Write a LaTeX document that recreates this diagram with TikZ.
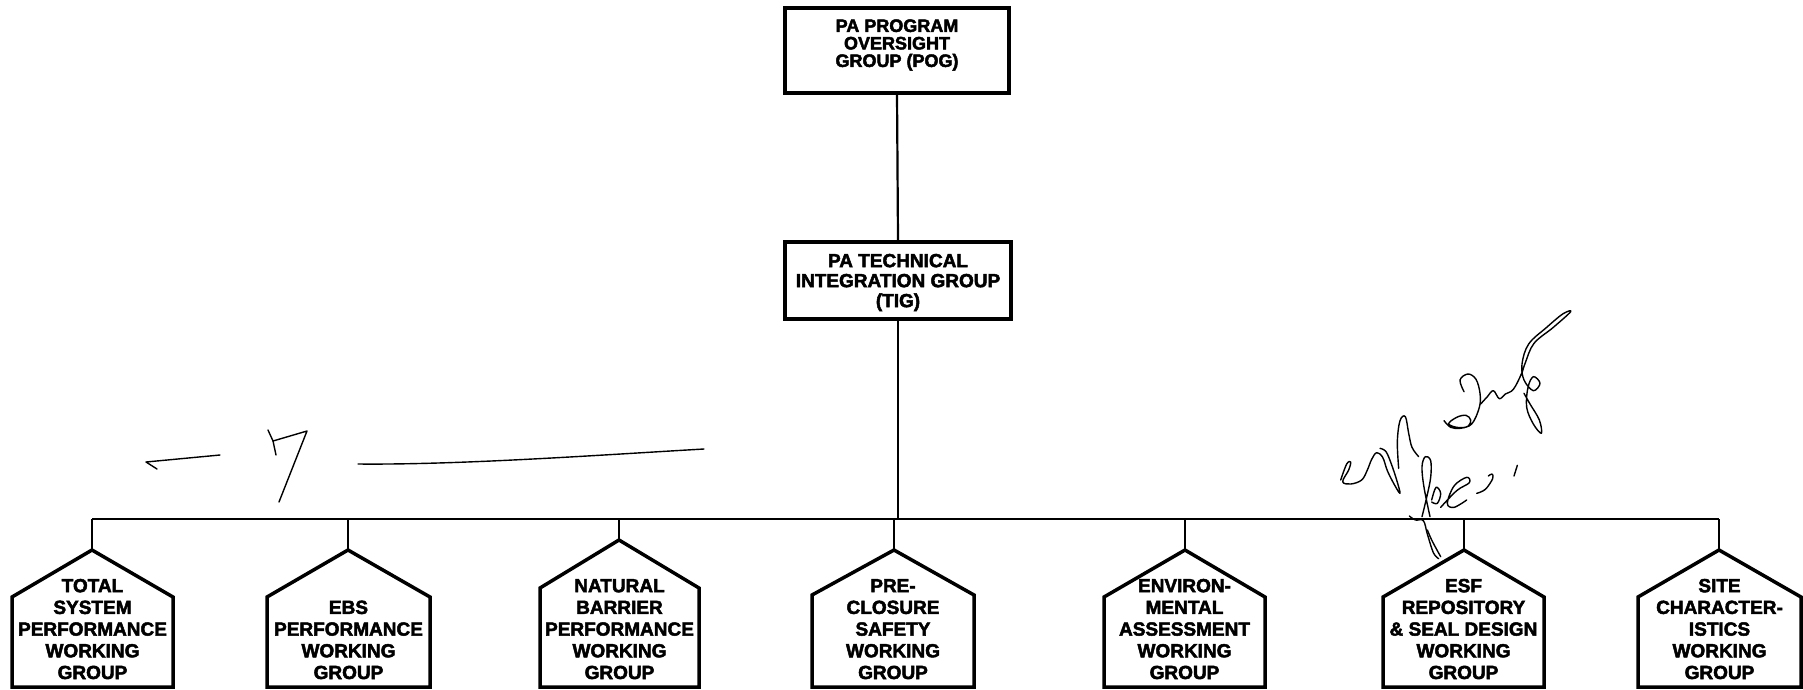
\documentclass[tikz,border=0pt]{standalone}
\usepackage{fontspec}
\setmainfont{Liberation Sans}[BoldFeatures={FakeBold=2.5}]
\tikzset{
  boxline/.style={draw=black, line width=3.5pt, fill=white},
  conn/.style={draw=black, line width=2.2pt},
  wgline/.style={draw=black, line width=3.5pt, line join=miter},
  wgtext/.style={font=\bfseries\fontsize{19}{21.7}\selectfont, align=center, inner sep=0pt},
  toptext/.style={font=\bfseries\fontsize{18}{17.5}\selectfont, align=center, inner sep=0pt},
  tigtext/.style={font=\bfseries\fontsize{19}{20}\selectfont, align=center, inner sep=0pt},
  pen/.style={draw=black, line width=1.4pt, line cap=round, line join=round},
}
% name, left, right, apex x, apex y, shoulder y, text
\newcommand\wgbox[7]{%
  \coordinate (#1) at (#4,#5);
  \draw[wgline] (#2,687) -- (#2,#6) -- (#1) -- (#3,#6) -- (#3,687) -- cycle;
  \node[wgtext, anchor=base] (#1-t) at ({(#2+#3)/2},679) {#7};
}
\begin{document}
\begin{tikzpicture}[x=1pt,y=-1pt]
\fill[white] (0,0) rectangle (1803,689);
\useasboundingbox (0,0) rectangle (1803,689);

% top boxes
\node[boxline, minimum width=224pt, minimum height=85pt, inner sep=0pt] (pog) at (897,50.5) {};
\node[toptext] (pog-t) at (897,45) {PA PROGRAM\\OVERSIGHT\\GROUP (POG)};
\node[boxline, minimum width=226pt, minimum height=77pt, inner sep=0pt] (tig) at (898,280.5) {};
\node[tigtext] (tig-t) at (898,282.5) {PA TECHNICAL\\INTEGRATION GROUP\\(TIG)};

% working groups
\wgbox{tsp}{12}{173}{92}{550}{597}{TOTAL\\SYSTEM\\PERFORMANCE\\WORKING\\GROUP}
\wgbox{ebs}{267}{430}{348}{550}{597}{EBS\\PERFORMANCE\\WORKING\\GROUP}
\wgbox{nbp}{540}{699}{619}{540}{588}{NATURAL\\BARRIER\\PERFORMANCE\\WORKING\\GROUP}
\wgbox{pcs}{812}{974}{894}{550}{595}{PRE-\\CLOSURE\\SAFETY\\WORKING\\GROUP}
\wgbox{env}{1104}{1265}{1185}{550}{597}{ENVIRON-\\MENTAL\\ASSESSMENT\\WORKING\\GROUP}
\wgbox{esf}{1383}{1544}{1464}{550}{597}{ESF\\REPOSITORY\\\& SEAL DESIGN\\WORKING\\GROUP}
\wgbox{sit}{1638}{1801}{1719}{550}{597}{SITE\\CHARACTER-\\ISTICS\\WORKING\\GROUP}

% connectors
\coordinate (bus) at (0,519);
\draw[conn] (pog.south) -- (tig.north);
\draw[conn] (tig.south) -- (tig.south |- bus);
\draw[conn] (tsp |- bus) -- (sit |- bus);
\foreach \n in {tsp,ebs,nbp,pcs,env,esf,sit}
  \draw[conn] (\n |- bus) -- (\n);

% handwritten marks
\draw[pen] (157,469) -- (146,462) -- (220,455);
\draw[pen] (268,430) -- (273,441) -- (307,431) -- (279,502);
\draw[pen] (273,441) -- (276,455);
\draw[pen] (358,464) .. controls (460,465) and (600,455) .. (704,449);

\begin{scope}[shift={(1320,300)}, scale=1/3]
  \draw[pen] plot[smooth, tension=0.6] coordinates {(62,540) (80,492) (92,486) (86,510) (68,545) (92,552) (125,540) (142,510) (155,478) (170,458) (188,472) (202,512) (222,552) (240,580) (230,540) (214,492) (198,455) (180,445)};
  \draw[pen] plot[smooth, tension=0.6] coordinates {(236,505) (232,425) (240,362) (256,350) (266,400) (276,442) (296,470)};
  \draw[pen] plot[smooth, tension=0.6] coordinates {(372,362) (392,382) (420,385) (445,378) (452,360) (438,346) (410,352) (386,372) (420,383) (455,372) (478,322) (480,280) (468,238) (444,222) (420,240) (432,275)};
  \draw[pen] plot[smooth, tension=0.6] coordinates {(482,312) (502,290) (520,272) (538,296) (556,282) (580,268) (604,222) (616,188) (642,130) (700,82) (752,35) (728,42) (680,82) (626,132) (606,192) (612,240) (640,272) (660,250) (640,230) (624,262) (620,322) (640,372) (664,400) (658,360) (630,312) (612,280)};
  \draw[pen] plot[smooth, tension=0.6] coordinates {(330,650) (312,562) (306,500) (316,470) (332,482) (332,532) (320,592) (306,650)};
  \draw[pen] plot[smooth, tension=0.6] coordinates {(335,600) (348,562) (362,580) (352,610) (335,606)};
  \draw[pen] plot[smooth, tension=0.6] coordinates {(362,622) (410,572) (448,548) (440,532) (402,558) (382,610) (402,622) (440,600)};
  \draw[pen] plot[smooth, tension=0.6] coordinates {(505,528) (516,522) (518,536) (496,568) (470,580)};
  \draw[pen] (592,496) -- (582,528);
  \draw[pen] plot[smooth, tension=0.6] coordinates {(268,648) (286,660) (310,662) (322,702) (340,758) (356,776)};
  \draw[pen] plot[smooth, tension=0.6] coordinates {(322,690) (335,720) (352,752) (362,770)};
\end{scope}
\end{tikzpicture}
\end{document}
